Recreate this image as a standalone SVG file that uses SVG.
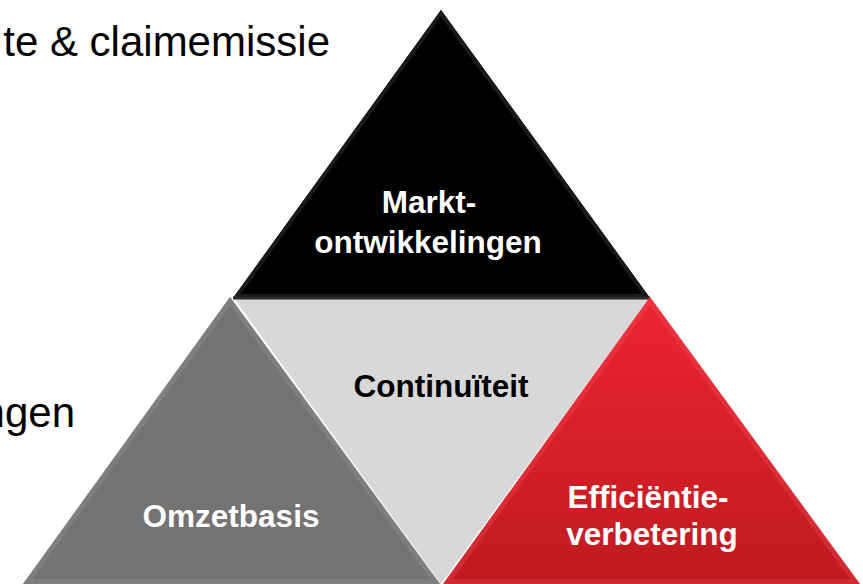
<svg xmlns="http://www.w3.org/2000/svg" width="863" height="584" viewBox="0 0 863 584">
  <style>
    .bg { font-family: "Liberation Sans", Arial, sans-serif; font-size: 42px; fill: #000; }
    .lbl { font-family: "Liberation Sans", Arial, sans-serif; font-size: 31.5px; font-weight: bold; text-anchor: middle; }
    .w { fill: #fff; }
    .k { fill: #000; }
  </style>
  <defs>
    <linearGradient id="redGrad" x1="0" y1="0" x2="0" y2="1">
      <stop offset="0" stop-color="#ec2532"/>
      <stop offset="1" stop-color="#bf1a20"/>
    </linearGradient>
    <clipPath id="cTop"><polygon points="441,10 233,298 650,298"/></clipPath>
    <clipPath id="cLeft"><polygon points="230,297 23,584 440,584"/></clipPath>
    <clipPath id="cRight"><polygon points="650,297 443,584 860,584"/></clipPath>
  </defs>

  <rect width="863" height="584" fill="#fff"/>

  <text class="bg" x="330" y="56" text-anchor="end">te &amp; claimemissie</text>
  <text class="bg" x="75" y="427" text-anchor="end">ngen</text>

  <g id="continuiteit">
    <polygon points="233,297 650,297 441,584" fill="#d8d8d8"/>
    <text class="lbl k" x="441" y="397">Continuïteit</text>
  </g>

  <g id="marktontwikkelingen">
    <polygon points="441,10 233,298 650,298" fill="#000"/>
    <polygon points="441,10 233,298 650,298" fill="none" stroke="#1a1a1a" stroke-width="8" clip-path="url(#cTop)"/>
    <line x1="233" y1="298" x2="650" y2="298" stroke="#2a2a2a" stroke-width="3"/>
    <text class="lbl w" x="429" y="213">Markt-</text>
    <text class="lbl w" x="428" y="253">ontwikkelingen</text>
  </g>

  <g id="omzetbasis">
    <polygon points="230,297 23,584 440,584" fill="#737373"/>
    <polygon points="230,297 23,584 440,584" fill="none" stroke="#858585" stroke-width="10" stroke-opacity="0.7" clip-path="url(#cLeft)"/>
    <text class="lbl w" x="231" y="527">Omzetbasis</text>
  </g>

  <g id="efficientieverbetering">
    <polygon points="650,297 443,584 860,584" fill="url(#redGrad)"/>
    <polygon points="650,297 443,584 860,584" fill="none" stroke="#f04a55" stroke-width="10" stroke-opacity="0.35" clip-path="url(#cRight)"/>
    <text class="lbl w" x="648" y="508">Efficiëntie-</text>
    <text class="lbl w" x="652" y="545">verbetering</text>
  </g>

  <g id="connectors"></g>
</svg>
